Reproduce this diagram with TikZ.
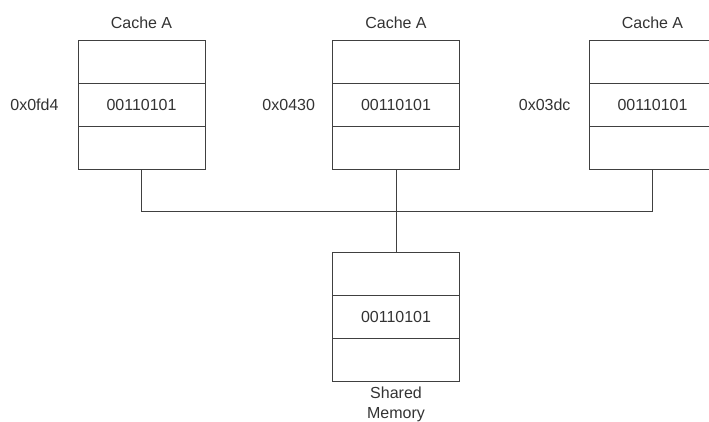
\documentclass[tikz,border=0pt]{standalone}
\usepackage{fontspec}
\setmainfont{Liberation Sans}
\usepackage{tikz}
\usetikzlibrary{positioning}

\begin{document}
\begin{tikzpicture}[
			x=1pt, y=-1pt
			,every node/.append style={font=\fontsize{16}{19}\selectfont, text=black!80}
			,cell/.style={rectangle, draw=black!75, line width=1pt, outer sep=0pt, minimum width=127pt, minimum height=42.7pt, inner sep=0pt}
			,wire/.style={draw=black!75, line width=1pt}
		]
			\useasboundingbox (0,0) rectangle (709,421);
			% caches
			\node [cell] (atop) at (141.5,62.3) {};
			\node [cell, below=0pt of atop] (amid) {00110101};
			\node [cell, below=0pt of amid] (abot) {};
			\node [cell] (btop) at (396,62.3) {};
			\node [cell, below=0pt of btop] (bmid) {00110101};
			\node [cell, below=0pt of bmid] (bbot) {};
			\node [cell] (ctop) at (652.5,62.3) {};
			\node [cell, below=0pt of ctop] (cmid) {00110101};
			\node [cell, below=0pt of cmid] (cbot) {};
			\node [above=9pt of atop] (alabel) {Cache A};
			\node [above=9pt of btop] (blabel) {Cache A};
			\node [above=9pt of ctop] (clabel) {Cache A};
			\node [left=16pt of amid] (aaddr) {0x0fd4};
			\node [left=14pt of bmid] (baddr) {0x0430};
			\node [left=15pt of cmid] (caddr) {0x03dc};
			% shared memory
			\node [cell] (mtop) at (396,274.3) {};
			\node [cell, below=0pt of mtop] (mmid) {00110101};
			\node [cell, below=0pt of mmid] (mbot) {};
			\node [below=2pt of mbot, align=center, font=\fontsize{16}{20}\selectfont] (mlabel) {Shared\\Memory};
			% bus
			\draw [wire] (abot.south) -- ++(0,42) -| (cbot.south);
			\draw [wire] (bbot.south) -- (mtop.north);
		\end{tikzpicture}
\end{document}
